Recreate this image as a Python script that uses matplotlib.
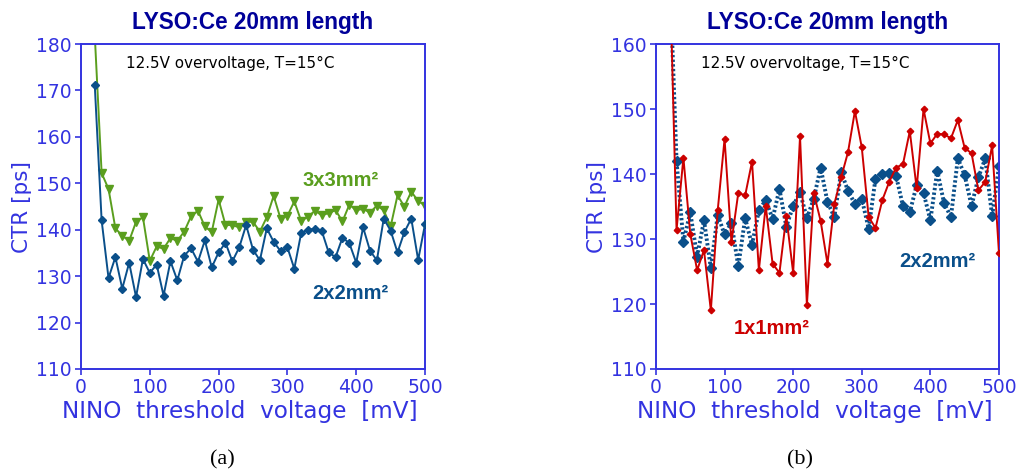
import matplotlib
matplotlib.use("Agg")
import matplotlib.pyplot as plt
import numpy as np

# NINO threshold, 20..500 mV in 10 mV steps
threshold = np.arange(20, 501, 10)

ctr_2x2 = [171.2, 142.0, 129.6, 134.1, 127.3, 132.9, 125.5, 133.7, 130.7, 132.5,
           125.8, 133.2, 129.1, 134.4, 136.0, 133.1, 137.7, 131.9, 135.1, 137.2,
           133.2, 136.2, 141.0, 135.7, 133.4, 140.3, 137.4, 135.4, 136.2, 131.6,
           139.3, 140.0, 140.2, 139.7, 135.1, 134.1, 138.3, 137.1, 132.9, 140.5,
           135.5, 133.4, 142.4, 139.8, 135.1, 139.5, 142.4, 133.5, 141.2]

ctr_3x3 = [182.0, 152.2, 148.8, 140.3, 138.7, 137.6, 141.7, 142.7, 133.3, 136.4,
           135.9, 138.2, 137.6, 139.6, 142.9, 144.1, 140.7, 139.5, 146.5, 141.0,
           141.0, 140.5, 141.7, 141.7, 139.6, 142.7, 147.3, 142.4, 143.0, 146.1,
           141.9, 142.8, 144.1, 143.1, 143.6, 144.2, 141.8, 145.4, 144.2, 144.5,
           143.7, 145.2, 144.2, 140.7, 147.4, 145.0, 148.2, 146.2, 145.2]

ctr_1x1 = [172.0, 131.4, 142.5, 130.8, 125.2, 128.3, 119.0, 134.4, 145.4, 129.5,
           137.1, 136.7, 141.9, 125.2, 135.1, 126.2, 124.8, 133.5, 124.8, 145.8,
           119.8, 137.1, 132.8, 126.2, 135.4, 139.5, 143.4, 149.7, 144.1, 133.4,
           131.7, 136.0, 138.8, 141.0, 141.5, 146.6, 137.8, 150.0, 144.7, 146.2,
           146.1, 145.5, 148.3, 144.0, 143.2, 137.5, 138.8, 144.4, 127.8]

AXIS_BLUE = "#3333e0"
TITLE_BLUE = "#000099"
C_BLUE = "#0a4f8a"
C_GREEN = "#5a9e1e"
C_RED = "#cc0000"


def style_axes(ax, ylim, yticks):
    ax.set_xlim(0, 500)
    ax.set_ylim(*ylim)
    ax.set_xticks([0, 100, 200, 300, 400, 500])
    ax.set_yticks(yticks)
    for sp in ax.spines.values():
        sp.set_color(AXIS_BLUE)
        sp.set_linewidth(1.4)
    ax.tick_params(colors=AXIS_BLUE, labelcolor=AXIS_BLUE, direction="out",
                   length=4, width=1.2, labelsize=13.5, pad=2.5)
    ax.set_xlabel("NINO  threshold  voltage  [mV]", color=AXIS_BLUE, fontsize=16.7)
    ax.xaxis.set_label_coords(0.462, -0.095)
    ax.set_ylabel("CTR [ps]", color=AXIS_BLUE, fontsize=15.5, labelpad=3)
    ax.set_title("LYSO:Ce 20mm length", color=TITLE_BLUE, fontsize=16.3,
                 fontweight="bold", family="Liberation Sans", pad=11)
    ax.text(0.13, 0.962, "12.5V overvoltage, T=15°C", transform=ax.transAxes,
            fontsize=10.9, color="black", va="top")


fig = plt.figure(figsize=(10.2, 4.75), dpi=100)
ax1 = fig.add_axes([0.0794, 0.2232, 0.3373, 0.684])
ax2 = fig.add_axes([0.6431, 0.2232, 0.3363, 0.684])

# (a) 2x2 vs 3x3
ax1.plot(threshold, ctr_3x3, color=C_GREEN, lw=1.4, marker="v", ms=5.5, zorder=2)
ax1.plot(threshold, ctr_2x2, color=C_BLUE, lw=1.4, marker="D", ms=4.3, zorder=3)
style_axes(ax1, (110, 180), range(110, 181, 10))
ax1.text(322, 150.6, "3x3mm²", color=C_GREEN, fontsize=14.5, fontweight="bold",
         family="Liberation Sans", va="center")
ax1.text(336, 126.2, "2x2mm²", color=C_BLUE, fontsize=14.5, fontweight="bold",
         family="Liberation Sans", va="center")

# (b) 2x2 vs 1x1
ax2.plot(threshold, ctr_2x2, color=C_BLUE, lw=2.8, ls=(0, (0.6, 0.6)),
         marker="D", ms=5, zorder=2)
ax2.plot(threshold, ctr_1x1, color=C_RED, lw=1.4, marker="D", ms=3.3, zorder=3)
style_axes(ax2, (110, 160), range(110, 161, 10))
ax2.text(354, 126.5, "2x2mm²", color=C_BLUE, fontsize=14.5, fontweight="bold",
         family="Liberation Sans", va="center")
ax2.text(113, 116.3, "1x1mm²", color=C_RED, fontsize=14.5, fontweight="bold",
         family="Liberation Sans", va="center")

fig.text(222 / 1020, 1 - 460 / 475, "(a)", fontsize=16, family="Liberation Serif",
         ha="center", va="center")
fig.text(800 / 1020, 1 - 460 / 475, "(b)", fontsize=16, family="Liberation Serif",
         ha="center", va="center")

fig.savefig("out.png", dpi=100)
